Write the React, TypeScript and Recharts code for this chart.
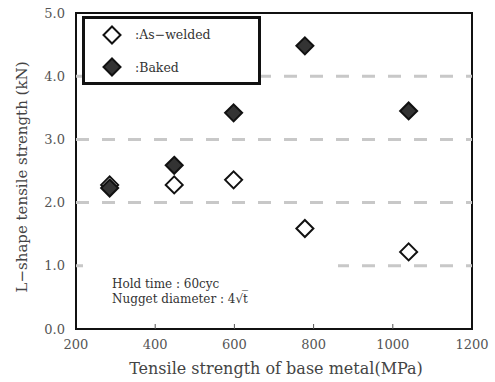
import React from 'react';
import { ScatterChart, Scatter, XAxis, YAxis, ReferenceLine, ReferenceArea } from 'recharts';

if (typeof document !== 'undefined') document.body.style.margin = '0';

const xTicks = [200, 400, 600, 800, 1000, 1200];
const yTicks = [0, 1, 2, 3, 4, 5];
const gridLevels = [1, 2, 3, 4];
const baseMetalStrength = [285, 448, 598, 778, 1040];
const asWelded = [2.28, 2.28, 2.36, 1.59, 1.22];
const baked = [2.23, 2.59, 3.42, 4.48, 3.45];

const asWeldedData = baseMetalStrength.map((x, i) => ({ x, y: asWelded[i] }));
const bakedData = baseMetalStrength.map((x, i) => ({ x, y: baked[i] }));

const serif = '"DejaVu Serif", serif';

const diamond = (fill: string) => (props: any) => {
  const { cx, cy } = props;
  const r = 8.5;
  return (
    <path
      d={`M${cx},${cy - r}L${cx + r},${cy}L${cx},${cy + r}L${cx - r},${cy}Z`}
      fill={fill}
      stroke="#111"
      strokeWidth={2}
    />
  );
};

const XTick = (props: any) => {
  const { x, y, payload } = props;
  const inner = payload.value !== 200 && payload.value !== 1200;
  return (
    <g>
      {inner && <line x1={x} x2={x} y1={y - 11} y2={y - 16} stroke="#555" strokeWidth={1} />}
      <text x={x} y={y} dy="0.71em" textAnchor="middle" fontSize={13} fill="#555" fontFamily={serif}>
        {payload.value}
      </text>
    </g>
  );
};

const LegendIcon = ({ fill }: { fill: string }) => (
  <svg width={20} height={20} style={{ position: 'absolute', left: -10, top: -10 }}>
    <path d="M10,1.5L18.5,10L10,18.5L1.5,10Z" fill={fill} stroke="#111" strokeWidth={2} />
  </svg>
);

export default function App() {
  return (
    <div style={{ position: 'relative', width: 495, height: 382, fontFamily: serif, background: '#fff' }}>
      <ScatterChart width={495} height={382} margin={{ top: 13, right: 23, left: 16, bottom: 23 }}>
        <XAxis
          type="number"
          dataKey="x"
          domain={[200, 1200]}
          ticks={xTicks}
          axisLine={false}
          tickLine={false}
          tickSize={0}
          tickMargin={11}
          height={30}
          tick={<XTick />}
        />
        <YAxis
          type="number"
          dataKey="y"
          domain={[0, 5]}
          ticks={yTicks}
          width={60}
          axisLine={false}
          tickLine={false}
          tickSize={0}
          tickMargin={11}
          tickFormatter={(v) => v.toFixed(1)}
          tick={{ fontSize: 13, fill: '#555', fontFamily: serif }}
        />
        {gridLevels.map((v) => (
          <ReferenceLine key={v} y={v} stroke="#c8c8c8" strokeWidth={3} strokeDasharray="13 13" />
        ))}
        <ReferenceArea x1={200} x2={1200} y1={0} y2={5} fill="none" stroke="#111" strokeWidth={2} />
        <Scatter data={asWeldedData} shape={diamond('#fff')} isAnimationActive={false} />
        <Scatter data={bakedData} shape={diamond('#333')} isAnimationActive={false} />
      </ScatterChart>

      {/* legend box */}
      <div
        style={{
          position: 'absolute', left: 82, top: 16, width: 179, height: 69, boxSizing: 'border-box',
          border: '3px solid #111', background: '#fff',
        }}
      >
        <div style={{ position: 'absolute', left: 27, top: 16 }}><LegendIcon fill="#fff" /></div>
        <div style={{ position: 'absolute', left: 27, top: 48 }}><LegendIcon fill="#333" /></div>
        <div style={{ position: 'absolute', left: 50, top: 8, fontSize: 12.5, color: '#333' }}>:As−welded</div>
        <div style={{ position: 'absolute', left: 50, top: 41, fontSize: 12.5, color: '#333' }}>:Baked</div>
      </div>

      {/* test conditions */}
      <div
        style={{
          position: 'absolute', left: 83, top: 258, width: 255, height: 50, background: '#fff',
          fontSize: 12, color: '#333', lineHeight: '15px', boxSizing: 'border-box', paddingLeft: 29, paddingTop: 19,
        }}
      >
        <div>Hold time : 60cyc</div>
        <div>Nugget diameter : 4√t̅</div>
      </div>

      {/* axis titles */}
      <div
        style={{
          position: 'absolute', left: 276, top: 368, transform: 'translate(-50%, -50%)',
          whiteSpace: 'nowrap', fontSize: 16, color: '#444',
        }}
      >
        Tensile strength of base metal(MPa)
      </div>
      <div
        style={{
          position: 'absolute', left: 22, top: 177, transform: 'translate(-50%, -50%) rotate(-90deg)',
          whiteSpace: 'nowrap', fontSize: 15, color: '#444',
        }}
      >
        L−shape tensile strength (kN)
      </div>
    </div>
  );
}
